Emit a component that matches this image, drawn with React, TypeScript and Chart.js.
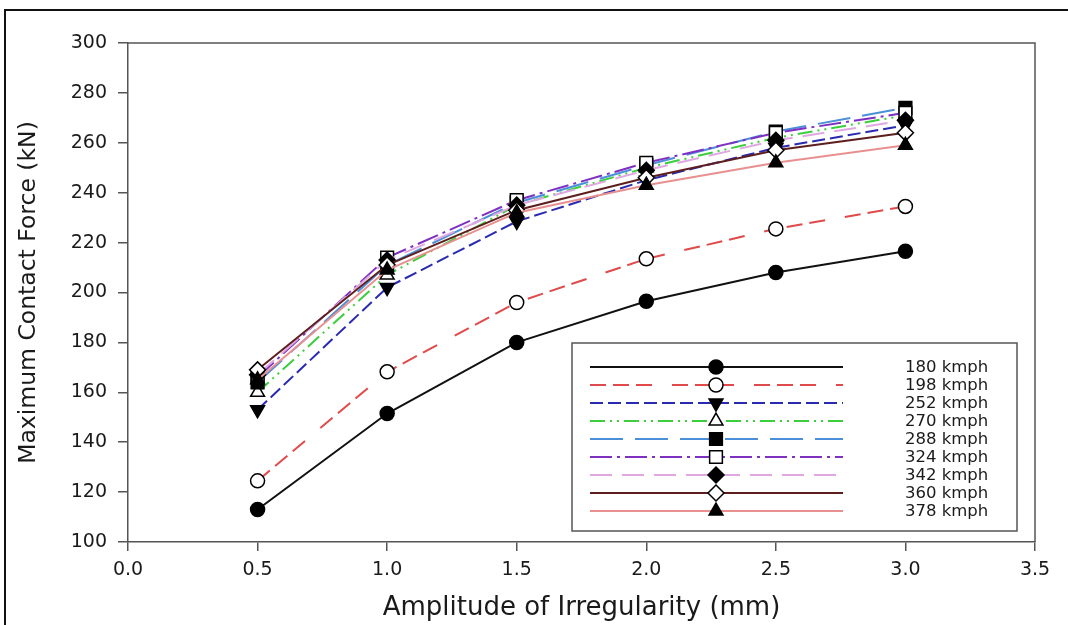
import React, { useEffect, useRef } from 'react';
import { Chart, registerables } from 'chart.js';

Chart.register(...registerables);

// ---- data ----
const amplitudes = [0.5, 1.0, 1.5, 2.0, 2.5, 3.0];
const speedLabels = ['180 kmph', '198 kmph', '252 kmph', '270 kmph', '288 kmph', '324 kmph', '342 kmph', '360 kmph', '378 kmph'];
const force180 = [113, 151.5, 180, 196.5, 208, 216.5];
const force198 = [124.5, 168.2, 196, 213.5, 225.5, 234.5];
const force252 = [153, 202, 228.5, 245, 258, 267];
const force270 = [160, 207, 235, 250, 262, 271];
const force288 = [164, 211, 236, 251, 264.5, 274];
const force324 = [166, 214, 237, 252, 264, 272];
const force342 = [167, 213, 235, 249, 261, 269];
const force360 = [169, 211, 233, 246, 257, 264];
const force378 = [165, 209, 232, 243, 252, 259];
const allForces = [force180, force198, force252, force270, force288, force324, force342, force360, force378];

const xMin = 0;
const xMax = 3.5;
const xStep = 0.5;
const yMin = 100;
const yMax = 300;
const yStep = 20;

// ---- styles ----
type SeriesStyle = { color: string; dash: number[]; point: string; rotation: number; fill: string; radius: number };
const styles: SeriesStyle[] = [
  { color: '#111111', dash: [], point: 'circle', rotation: 0, fill: '#000000', radius: 7 },
  { color: '#e04a4a', dash: [16, 7, 16, 7, 16, 20], point: 'circle', rotation: 0, fill: '#ffffff', radius: 7 },
  { color: '#2a2ab0', dash: [13, 5], point: 'triangle', rotation: 180, fill: '#000000', radius: 8 },
  { color: '#3ccf3c', dash: [15, 5, 2, 5, 2, 5], point: 'triangle', rotation: 0, fill: '#ffffff', radius: 8 },
  { color: '#4a8fd8', dash: [33, 12], point: 'rect', rotation: 0, fill: '#000000', radius: 9 },
  { color: '#8030c0', dash: [22, 5, 3, 5], point: 'rect', rotation: 0, fill: '#ffffff', radius: 9 },
  { color: '#e0a8e0', dash: [22, 10], point: 'rectRot', rotation: 0, fill: '#000000', radius: 8 },
  { color: '#5e1e1e', dash: [], point: 'rectRot', rotation: 0, fill: '#ffffff', radius: 8 },
  { color: '#e89090', dash: [], point: 'triangle', rotation: 0, fill: '#000000', radius: 8 },
];

function drawMarker(ctx: CanvasRenderingContext2D, shape: string, rotationDeg: number, x: number, y: number, r: number, fill: string) {
  ctx.save();
  ctx.beginPath();
  const rot = (rotationDeg * Math.PI) / 180;
  if (shape === 'circle') {
    ctx.arc(x, y, r, 0, Math.PI * 2);
  } else if (shape === 'triangle') {
    let a = rot;
    for (let k = 0; k < 3; k++) {
      const px = x + Math.sin(a) * r;
      const py = y - Math.cos(a) * r;
      if (k === 0) ctx.moveTo(px, py);
      else ctx.lineTo(px, py);
      a += (2 * Math.PI) / 3;
    }
    ctx.closePath();
  } else if (shape === 'rect') {
    const s = Math.SQRT1_2 * r;
    ctx.rect(x - s, y - s, 2 * s, 2 * s);
  } else {
    ctx.moveTo(x, y - r);
    ctx.lineTo(x + r, y);
    ctx.lineTo(x, y + r);
    ctx.lineTo(x - r, y);
    ctx.closePath();
  }
  ctx.fillStyle = fill;
  ctx.fill();
  ctx.lineWidth = 1.5;
  ctx.strokeStyle = '#000000';
  ctx.stroke();
  ctx.restore();
}

const framePlugin = {
  id: 'framePlugin',
  beforeDraw(chart: any) {
    const { ctx, width, height } = chart;
    ctx.save();
    ctx.fillStyle = '#ffffff';
    ctx.fillRect(0, 0, width, height);
    ctx.strokeStyle = '#111111';
    ctx.lineWidth = 2;
    ctx.strokeRect(5, 10, width + 20, height + 20);
    ctx.restore();
  },
  beforeDatasetsDraw(chart: any) {
    const { ctx, chartArea } = chart;
    ctx.save();
    ctx.strokeStyle = '#555555';
    ctx.lineWidth = 1.5;
    ctx.beginPath();
    ctx.moveTo(chartArea.left, chartArea.top);
    ctx.lineTo(chartArea.right, chartArea.top);
    ctx.lineTo(chartArea.right, chartArea.bottom);
    ctx.stroke();
    ctx.restore();
  },
};

const legendPlugin = {
  id: 'boxLegend',
  afterDatasetsDraw(chart: any, _args: any, opts: any) {
    const ctx: CanvasRenderingContext2D = chart.ctx;
    ctx.save();
    ctx.fillStyle = '#ffffff';
    ctx.fillRect(opts.left, opts.top, opts.width, opts.height);
    ctx.strokeStyle = '#555555';
    ctx.lineWidth = 1.5;
    ctx.strokeRect(opts.left, opts.top, opts.width, opts.height);
    chart.data.datasets.forEach((ds: any, i: number) => {
      const st = styles[i];
      const y = opts.firstRow + i * opts.rowGap;
      ctx.beginPath();
      ctx.setLineDash(st.dash);
      ctx.strokeStyle = st.color;
      ctx.lineWidth = 2;
      ctx.moveTo(opts.lineStart, y);
      ctx.lineTo(opts.lineEnd, y);
      ctx.stroke();
      ctx.setLineDash([]);
      drawMarker(ctx, st.point, st.rotation, opts.markerX, y, st.radius, st.fill);
      ctx.fillStyle = '#1a1a1a';
      ctx.font = '16.5px "DejaVu Sans", sans-serif';
      ctx.textBaseline = 'middle';
      ctx.textAlign = 'left';
      ctx.fillText(ds.label, opts.textX, y + 1);
    });
    ctx.restore();
  },
};

export default function App() {
  const canvasRef = useRef<HTMLCanvasElement | null>(null);

  useEffect(() => {
    if (!canvasRef.current) return;
    const datasets = allForces.map((vals, i) => {
      const st = styles[i];
      return {
        label: speedLabels[i],
        data: amplitudes.map((a, j) => ({ x: a, y: vals[j] })),
        borderColor: st.color,
        borderDash: st.dash,
        borderWidth: 2,
        pointStyle: st.point,
        rotation: st.rotation,
        pointRadius: st.radius,
        pointBackgroundColor: st.fill,
        pointBorderColor: '#000000',
        pointBorderWidth: 1.5,
        tension: 0,
        fill: false,
        order: 9 - i,
      };
    });

    const chart = new Chart(canvasRef.current, {
      type: 'line',
      data: { datasets },
      options: {
        animation: false,
        responsive: false,
        layout: { padding: { left: 0, top: 43, right: 33, bottom: 0 } },
        plugins: {
          legend: { display: false },
          tooltip: { enabled: false },
          boxLegend: {
            left: 572,
            top: 343,
            width: 445,
            height: 188,
            firstRow: 367,
            rowGap: 18,
            lineStart: 590,
            lineEnd: 843,
            markerX: 716,
            textX: 905,
          },
        } as any,
        scales: {
          x: {
            type: 'linear',
            min: xMin,
            max: xMax,
            afterFit: (scale: any) => {
              scale.height = 83;
            },
            ticks: {
              stepSize: xStep,
              color: '#1a1a1a',
              font: { size: 19, family: '"DejaVu Sans", sans-serif' },
              padding: 8,
              maxRotation: 0,
              callback: (v: any) => Number(v).toFixed(1),
            },
            grid: { display: true, drawOnChartArea: false, drawTicks: true, tickLength: 9, color: '#555555', lineWidth: 1.5 },
            border: { display: true, color: '#555555', width: 1.5 },
            title: {
              display: true,
              text: 'Amplitude of Irregularity (mm)',
              color: '#1a1a1a',
              font: { size: 26, family: '"DejaVu Sans", sans-serif' },
              padding: { top: 0, bottom: 1 },
            },
          },
          y: {
            type: 'linear',
            min: yMin,
            max: yMax,
            afterFit: (scale: any) => {
              scale.width = 128;
            },
            ticks: {
              stepSize: yStep,
              color: '#1a1a1a',
              font: { size: 19, family: '"DejaVu Sans", sans-serif' },
              padding: 11,
            },
            grid: { display: true, drawOnChartArea: false, drawTicks: true, tickLength: 10, color: '#555555', lineWidth: 1.5 },
            border: { display: true, color: '#555555', width: 1.5 },
            title: {
              display: true,
              text: 'Maximum Contact Force (kN)',
              color: '#1a1a1a',
              font: { size: 23.5, family: '"DejaVu Sans", sans-serif' },
              padding: { top: 15, bottom: 0 },
            },
          },
        },
      },
      plugins: [framePlugin, legendPlugin],
    } as any);

    return () => chart.destroy();
  }, []);

  return (
    <div style={{ position: 'fixed', left: 0, top: 0, width: 1068, height: 625, background: '#ffffff' }}>
      <canvas ref={canvasRef} width={1068} height={625} style={{ display: 'block', width: 1068, height: 625 }} />
    </div>
  );
}
